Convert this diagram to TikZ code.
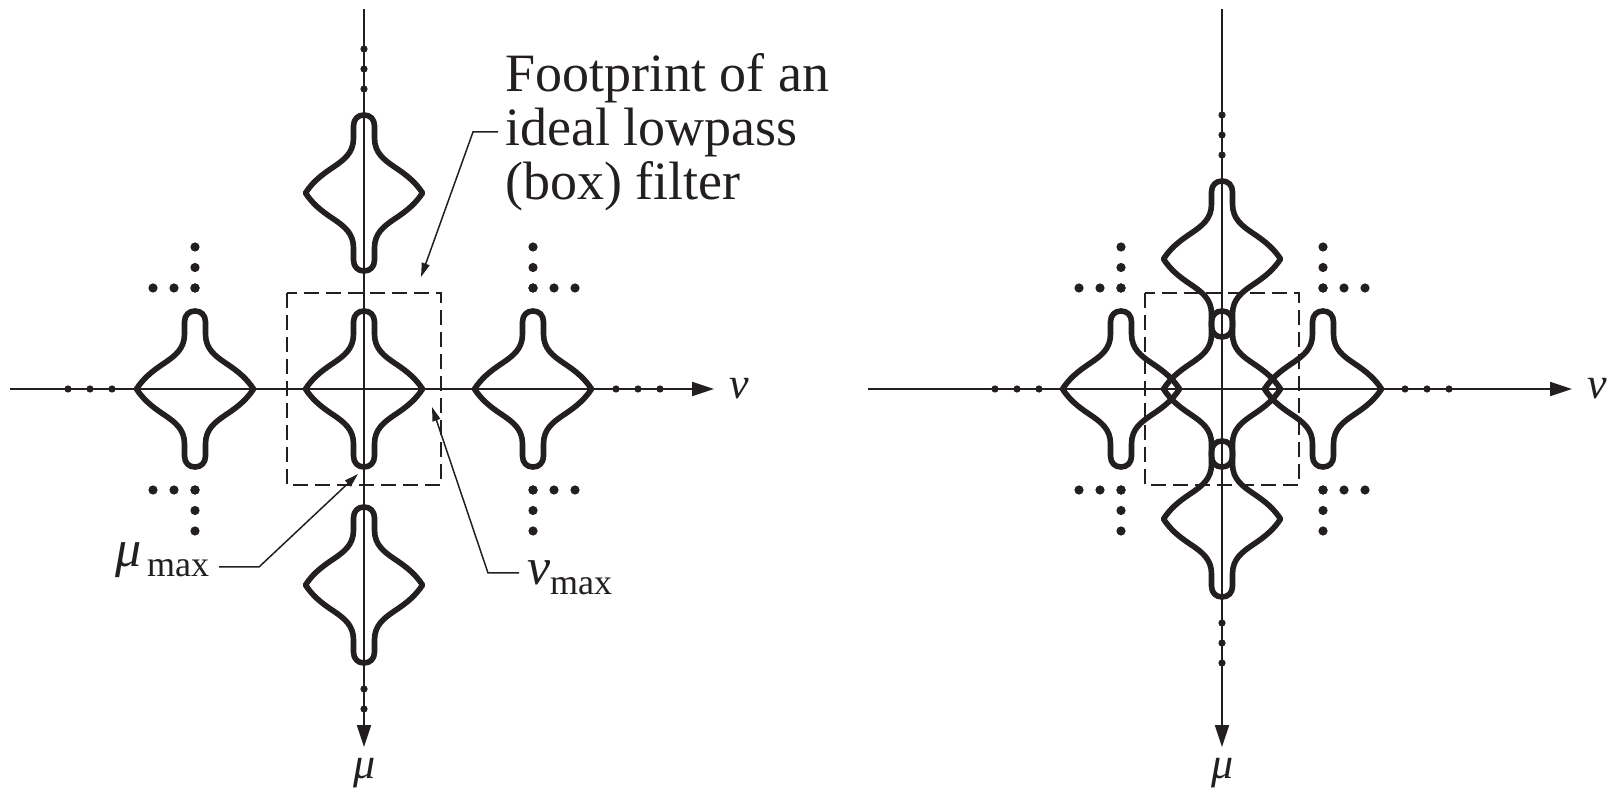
\documentclass[tikz,border=0pt]{standalone}
\usepackage{fontspec}
\setmainfont{Liberation Serif}
\usetikzlibrary{arrows.meta}
\definecolor{ink}{HTML}{231F20}

\tikzset{
  spec/.pic={
    \draw[line width=2.8pt,line join=round]
      (0,-78) .. controls (6,-78) and (10.5,-74) .. (10.5,-67)
      -- (10.5,-55) .. controls (10.5,-40) and (20,-33) .. (32,-25)
      .. controls (44,-17) and (52,-10) .. (58.5,0)
      .. controls (52,10) and (44,17) .. (32,25)
      .. controls (20,33) and (10.5,40) .. (10.5,55)
      -- (10.5,67) .. controls (10.5,74) and (6,78) .. (0,78)
      .. controls (-6,78) and (-10.5,74) .. (-10.5,67)
      -- (-10.5,55) .. controls (-10.5,40) and (-20,33) .. (-32,25)
      .. controls (-44,17) and (-52,10) .. (-58.5,0)
      .. controls (-52,-10) and (-44,-17) .. (-32,-25)
      .. controls (-20,-33) and (-10.5,-40) .. (-10.5,-55)
      -- (-10.5,-67) .. controls (-10.5,-74) and (-6,-78) .. (0,-78) -- cycle;
  },
  axis/.style={line width=1pt,-{Triangle[length=11pt,width=7pt]}},
  lead/.style={line width=.75pt,-{Triangle[length=7pt,width=4pt]}},
  footbox/.style={line width=.75pt,dash pattern=on 7.5pt off 3.5pt},
  axlbl/.style={font=\fontsize{22}{22}\selectfont\itshape},
  note/.style={font=\fontsize{27}{27}\selectfont,align=left},
  sym/.style={font=\fontsize{26}{27}\selectfont,inner sep=0pt,outer sep=5pt}
}

\begin{document}
\begin{tikzpicture}[x=.5pt,y=-.5pt,ink]
\useasboundingbox (0,0) rectangle (1615,795);

% two panels: centre, spacing of the copies, axis dots
\foreach \cx/\dx/\dy/\ax/\ay in {364/169/196/274/320,1222/101/130/205/254}{
  \draw[axis] (\cx-354,389) -- (\cx+350,389);
  \draw[axis] (\cx,9) -- (\cx,747);
  \node[axlbl] (nu\cx) at (\cx+375,389) {ν};
  \node[axlbl] (mu\cx) at (\cx+1,773) {μ};
  \foreach \i in {-1,0,1}{
    \fill (\cx-\ax+22*\i,389) circle (1.8pt);
    \fill (\cx+\ax+22*\i,389) circle (1.8pt);
    \fill (\cx,389-\ay+20*\i) circle (1.8pt);
    \fill (\cx,389+\ay+20*\i) circle (1.8pt);
  }
  \foreach \sx in {-1,1}
    \foreach \sy in {-1,1}
      \foreach \k in {0,1,2}{
        \fill (\cx+\sx*\dx+\sx*21*\k,389+\sy*101) circle (2.3pt);
        \fill (\cx+\sx*\dx,389+\sy*101+\sy*20.5*\k) circle (2.3pt);
      }
  \pic at (\cx,389) {spec};
  \pic at (\cx-\dx,389) {spec};
  \pic at (\cx+\dx,389) {spec};
  \pic at (\cx,389-\dy) {spec};
  \pic at (\cx,389+\dy) {spec};
  \draw[footbox] (\cx-77,293) rectangle (\cx+77,485);
}

% labels of the left panel
\node[note,anchor=west] (fp) at (498,132) {Footprint of an\\ideal lowpass\\(box) filter};
\coordinate (fpk) at (473,133);
\coordinate (fptip) at (421,277);
\draw[lead] (fp.west) -- (fp.west -| fpk) -- (fptip);

\node[sym,anchor=base west] (mumax) at (105,567)
  {\textit{μ}\hspace{3pt}\raisebox{-5pt}{\fontsize{18}{18}\selectfont max}};
\coordinate (mubend) at (259,567);
\coordinate (mutip) at (358,474);
\draw[lead] (mumax.east |- mubend) -- (mubend) -- (mutip);

\node[sym,anchor=base west,outer sep=4pt] (numax) at (519,585)
  {\textit{ν}\raisebox{-5pt}{\fontsize{18}{18}\selectfont max}};
\coordinate (nubend) at (488,573);
\coordinate (nutip) at (432,407);
\draw[lead] (numax.west |- nubend) -- (nubend) -- (nutip);
\end{tikzpicture}
\end{document}
